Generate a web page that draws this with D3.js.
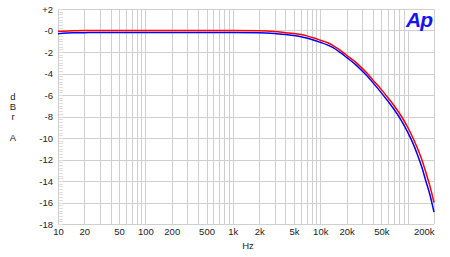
<!DOCTYPE html>
<html>
<head>
<meta charset="utf-8">
<script src="https://cdn.jsdelivr.net/npm/d3@7"></script>
<style>
  body { margin: 0; background: #fff; }
  text { font-family: "Liberation Sans", Arial, sans-serif; }
</style>
</head>
<body>
<svg id="chart"></svg>
<script>
// frequency points (Hz) and response of the two channels (dBrA)
const freqs = [10, 15, 20, 50, 100, 200, 500, 1000, 2000, 3000, 4000, 5000, 6000, 7000, 8500, 10000,
  12000, 14000, 17000, 20000, 25000, 30000, 35000, 40000, 50000, 60000, 70000, 85000, 100000,
  115000, 130000, 145000, 160000, 180000, 200000];
const redVals = [-0.08, -0.03, 0, 0, 0, 0, 0, 0, -0.03, -0.1, -0.2, -0.28, -0.38, -0.5, -0.7, -0.9,
  -1.12, -1.4, -1.85, -2.3, -2.9, -3.5, -4.05, -4.6, -5.5, -6.3, -7.0, -8.0, -9.0,
  -10.0, -11.0, -12.0, -13.1, -14.5, -16.0];
const blueVals = [-0.3, -0.22, -0.2, -0.18, -0.18, -0.18, -0.18, -0.18, -0.2, -0.28, -0.38, -0.47, -0.58, -0.7, -0.9, -1.1,
  -1.34, -1.6, -2.06, -2.5, -3.13, -3.75, -4.3, -4.85, -5.8, -6.62, -7.35, -8.4, -9.45,
  -10.5, -11.6, -12.7, -13.9, -15.3, -16.9];

const xTickVals = [10, 20, 50, 100, 200, 500, 1000, 2000, 5000, 10000, 20000, 50000, 200000];
const xTickLabels = ['10', '20', '50', '100', '200', '500', '1k', '2k', '5k', '10k', '20k', '50k', '200k'];
const yTickVals = [2, 0, -2, -4, -6, -8, -10, -12, -14, -16, -18];
const yTickLabels = ['+2', '-0', '-2', '-4', '-6', '-8', '-10', '-12', '-14', '-16', '-18'];

const width = 450, height = 257;
const margin = { top: 9, right: 16, bottom: 33, left: 58 };
const innerW = width - margin.left - margin.right;
const innerH = height - margin.top - margin.bottom;

const svg = d3.select('#chart')
    .attr('width', width)
    .attr('height', height);

const chart = svg.append('g')
    .attr('transform', `translate(${margin.left},${margin.top})`);

const x = d3.scaleLog().domain([10, 200000]).range([0, innerW]);
const y = d3.scaleLinear().domain([-18, 2]).range([innerH, 0]);

// vertical grid at 1..9 of every decade
const gridFreqs = [];
for (let dec = 10; dec <= 100000; dec *= 10) {
  for (let m = 1; m <= 9; m++) {
    const f = dec * m;
    if (f <= 200000) gridFreqs.push(f);
  }
}
gridFreqs.push(200000);

chart.append('g').selectAll('line')
  .data(gridFreqs)
  .join('line')
    .attr('x1', d => Math.round(x(d)) + 0.5)
    .attr('x2', d => Math.round(x(d)) + 0.5)
    .attr('y1', 0)
    .attr('y2', innerH)
    .attr('stroke', '#cfcfcf')
    .attr('stroke-width', 1);

chart.append('g').selectAll('line')
  .data(yTickVals)
  .join('line')
    .attr('x1', 0)
    .attr('x2', innerW)
    .attr('y1', d => Math.round(y(d)) + 0.5)
    .attr('y2', d => Math.round(y(d)) + 0.5)
    .attr('stroke', '#cfcfcf')
    .attr('stroke-width', 1);

// minor ticks on the left edge
chart.append('g').selectAll('line')
  .data(d3.range(-18, 2.01, 0.25))
  .join('line')
    .attr('x1', 0)
    .attr('x2', 5)
    .attr('y1', d => Math.round(y(d)) + 0.5)
    .attr('y2', d => Math.round(y(d)) + 0.5)
    .attr('stroke', '#dedede')
    .attr('stroke-width', 1);

chart.append('line')
    .attr('x1', 0.5).attr('x2', 0.5)
    .attr('y1', 0).attr('y2', innerH)
    .attr('stroke', '#cfcfcf');

// axis labels
const yAxis = d3.axisLeft(y)
    .tickValues(yTickVals)
    .tickFormat((d, i) => yTickLabels[i])
    .tickSize(0)
    .tickPadding(5);
const yg = chart.append('g').call(yAxis);
yg.select('.domain').remove();
yg.selectAll('text').attr('font-size', 9.5).attr('fill', '#222');

const xAxis = d3.axisBottom(x)
    .tickValues(xTickVals)
    .tickFormat((d, i) => xTickLabels[i])
    .tickSize(0)
    .tickPadding(4);
const xg = chart.append('g')
    .attr('transform', `translate(0,${innerH})`)
    .call(xAxis);
xg.select('.domain').remove();
xg.selectAll('text').attr('font-size', 9.5).attr('fill', '#222');
xg.selectAll('text').filter(d => d === 200000).attr('text-anchor', 'end');

// curves
const line = d3.line()
    .x(d => x(d[0]))
    .y(d => y(d[1]))
    .curve(d3.curveMonotoneX);

chart.append('path')
    .datum(freqs.map((f, i) => [f, blueVals[i]]))
    .attr('fill', 'none')
    .attr('stroke', '#0000ff')
    .attr('stroke-width', 1.5)
    .attr('d', line);

chart.append('path')
    .datum(freqs.map((f, i) => [f, redVals[i]]))
    .attr('fill', 'none')
    .attr('stroke', '#ff0000')
    .attr('stroke-width', 1.5)
    .attr('d', line);

// Ap logo
chart.append('rect')
    .attr('x', innerW - 29).attr('y', 1)
    .attr('width', 28).attr('height', 20)
    .attr('fill', '#fff');
chart.append('text')
    .attr('x', innerW - 2)
    .attr('y', 18)
    .attr('text-anchor', 'end')
    .attr('font-size', 21)
    .attr('font-weight', 'bold')
    .attr('font-style', 'italic')
    .attr('fill', '#1414f0')
    .attr('letter-spacing', -1)
    .text('Ap');

// axis titles
svg.append('text')
    .attr('x', 248).attr('y', 249)
    .attr('text-anchor', 'middle')
    .attr('font-size', 9.5)
    .attr('fill', '#222')
    .text('Hz');

const yTitle = [['d', 100], ['B', 110], ['r', 120], ['A', 141]];
svg.append('g').selectAll('text')
  .data(yTitle)
  .join('text')
    .attr('x', 13)
    .attr('y', d => d[1])
    .attr('text-anchor', 'middle')
    .attr('font-size', 9.5)
    .attr('fill', '#222')
    .text(d => d[0]);
</script>
</body>
</html>
